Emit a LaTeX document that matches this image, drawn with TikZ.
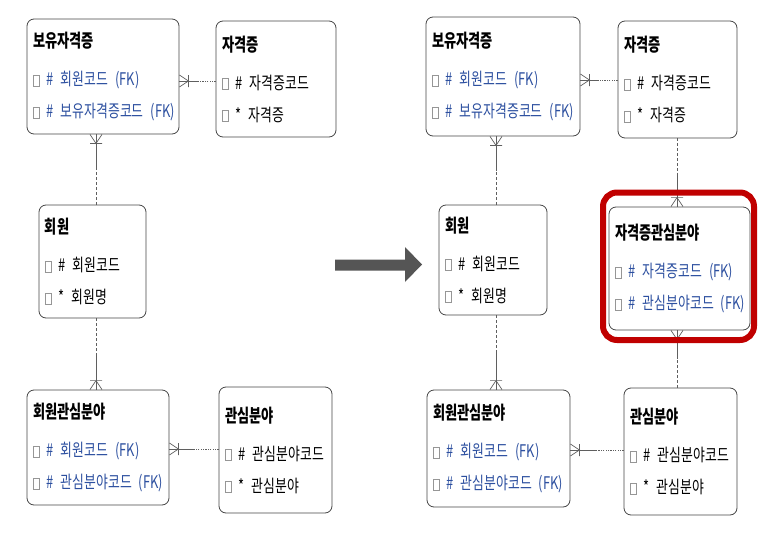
\documentclass[tikz,border=0pt]{standalone}
\usepackage{fontspec}
\setmainfont{Noto Sans CJK KR}[FakeStretch=0.74]
\newfontfamily\ttlfont{Noto Sans CJK KR}[FakeStretch=0.72]
\usetikzlibrary{calc}
\definecolor{linegray}{RGB}{95,95,95}
\definecolor{boxline}{RGB}{70,70,70}
\definecolor{fkblue}{RGB}{45,80,160}
\definecolor{hlred}{RGB}{192,0,0}
\definecolor{arrowgray}{RGB}{85,85,85}
\definecolor{chkgray}{RGB}{150,150,150}
\newcommand{\chk}{{\color{chkgray}\setlength{\fboxsep}{0pt}\setlength{\fboxrule}{0.6pt}%
  \fbox{\rule{0pt}{10pt}\hspace{5.5pt}}}\hspace{7pt}}
\newcommand{\ttl}[1]{{\ttlfont\bfseries\fontsize{18.3}{20}\selectfont #1}}
\newcommand{\attr}[2]{\mbox{\chk#1\hspace{7pt}#2}}
\newcommand{\fkattr}[1]{\mbox{\chk{\color{fkblue}\#\hspace{7pt}#1\hspace{7pt}(FK)}}}
\begin{document}
\begin{tikzpicture}[x=1pt, y=-1pt,
  ent/.style={draw=boxline, line width=0.8pt, rounded corners=7pt,
    fill=white, inner xsep=6pt, inner ysep=0pt, align=left,
    font=\fontsize{17.4}{32}\selectfont},
  mand/.style={linegray, line width=1pt},
  opt/.style={linegray, line width=0.8pt, dash pattern=on 1.2pt off 1.2pt},
  optv/.style={linegray, line width=0.6pt, dash pattern=on 3pt off 2pt},
  crow/.pic={\draw[linegray, line width=0.7pt]
    (0,-6) -- (9,0) -- (0,6) (9,-6) -- (9,6);}]
\useasboundingbox (0,0) rectangle (769,533);
%
% ---- Before: entities ----
\node[ent, text width=140, minimum height=115] (L1) at (103,76.5)
  {\ttl{보유자격증}\\[6pt]\fkattr{회원코드}\\\fkattr{보유자격증코드}};
\node[ent, text width=108, minimum height=116] (L2) at (276,79)
  {\ttl{자격증}\\[6pt]\attr{\#}{자격증코드}\\\attr{*}{자격증}};
\node[ent, text width=95, minimum height=113] (L3) at (92.5,261.5)
  {\ttl{회원}\\[6pt]\attr{\#}{회원코드}\\\attr{*}{회원명}};
\node[ent, text width=130, minimum height=115] (L4) at (98,447.5)
  {\ttl{회원관심분야}\\[6pt]\fkattr{회원코드}\\\fkattr{관심분야코드}};
\node[ent, text width=101, minimum height=126] (L5) at (275.5,450)
  {\ttl{관심분야}\\[6pt]\attr{\#}{관심분야코드}\\\attr{*}{관심분야}};
%
% ---- Before: relations ----
\draw[opt] (L2.west |- 0,81) -- coordinate (m1) (L1.east |- 0,81);
\draw[mand] (m1) -- (L1.east |- 0,81);
\pic at (L1.east |- 0,81) {crow};
\draw[optv] (L3.north -| 96,0) -- coordinate (m2) (L1.south -| 96,0);
\draw[mand] (m2) -- (L1.south -| 96,0);
\pic[rotate=-90] at (L1.south -| 96,0) {crow};
\draw[optv] (L3.south -| 96,0) -- coordinate (m3) (L4.north -| 96,0);
\draw[mand] (m3) -- (L4.north -| 96,0);
\pic[rotate=90] at (L4.north -| 96,0) {crow};
\draw[opt] (L5.west |- 0,449) -- coordinate (m4) (L4.east |- 0,449);
\draw[mand] (m4) -- (L4.east |- 0,449);
\pic at (L4.east |- 0,449) {crow};
%
% ---- Arrow ----
\fill[arrowgray] (335,259.5) -- (405,259.5) -- (405,247) -- (422,264.5)
  -- (405,282) -- (405,270.5) -- (335,270.5) -- cycle;
%
% ---- After: entities ----
\node[ent, text width=142, minimum height=119] (R1) at (503,76.5)
  {\ttl{보유자격증}\\[6pt]\fkattr{회원코드}\\\fkattr{보유자격증코드}};
\node[ent, text width=107, minimum height=117] (R2) at (677.5,79.5)
  {\ttl{자격증}\\[6pt]\attr{\#}{자격증코드}\\\attr{*}{자격증}};
\node[ent, text width=96, minimum height=110] (R3) at (493,260)
  {\ttl{회원}\\[6pt]\attr{\#}{회원코드}\\\attr{*}{회원명}};
\node[ent, text width=129, minimum height=123] (R4) at (679.5,268.5)
  {\ttl{자격증관심분야}\\[6pt]\fkattr{자격증코드}\\\fkattr{관심분야코드}};
\node[ent, text width=131, minimum height=117] (R5) at (498.5,448.5)
  {\ttl{회원관심분야}\\[6pt]\fkattr{회원코드}\\\fkattr{관심분야코드}};
\node[ent, text width=101, minimum height=127] (R6) at (680.5,451.5)
  {\ttl{관심분야}\\[6pt]\attr{\#}{관심분야코드}\\\attr{*}{관심분야}};
%
% ---- After: relations ----
\draw[opt] (R2.west |- 0,80) -- coordinate (n1) (R1.east |- 0,80);
\draw[mand] (n1) -- (R1.east |- 0,80);
\pic at (R1.east |- 0,80) {crow};
\draw[optv] (R3.north -| 496,0) -- coordinate (n2) (R1.south -| 496,0);
\draw[mand] (n2) -- (R1.south -| 496,0);
\pic[rotate=-90] at (R1.south -| 496,0) {crow};
\draw[optv] (R3.south -| 496,0) -- coordinate (n3) (R5.north -| 496,0);
\draw[mand] (n3) -- (R5.north -| 496,0);
\pic[rotate=90] at (R5.north -| 496,0) {crow};
\draw[opt] (R6.west |- 0,450) -- coordinate (n4) (R5.east |- 0,450);
\draw[mand] (n4) -- (R5.east |- 0,450);
\pic at (R5.east |- 0,450) {crow};
\draw[optv] (R2.south -| 677,0) -- coordinate (n5) (R4.north -| 677,0);
\draw[mand] (n5) -- (R4.north -| 677,0);
\pic[rotate=90] at (R4.north -| 677,0) {crow};
\draw[optv] (R6.north -| 677,0) -- coordinate (n6) (R4.south -| 677,0);
\draw[mand] (n6) -- (R4.south -| 677,0);
\pic[rotate=-90] at (R4.south -| 677,0) {crow};
%
% ---- Highlight ----
\node[draw=hlred, line width=6pt, rounded corners=14pt,
  minimum width=151, minimum height=147.5] (hl) at (678.5,266.25) {};
\end{tikzpicture}
\end{document}
